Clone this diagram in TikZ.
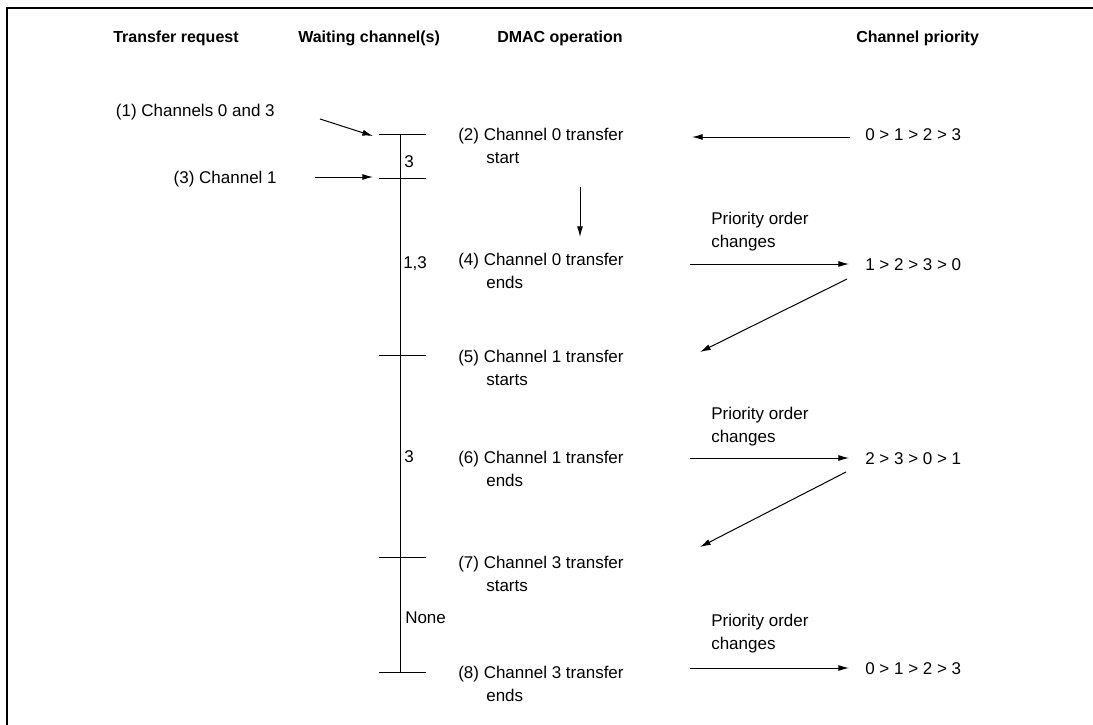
\documentclass[tikz,border=0pt]{standalone}
\usepackage{fontspec}
\setmainfont{Liberation Sans}
\usetikzlibrary{arrows.meta,positioning}

\begin{document}
\begin{tikzpicture}[x=0.75pt,y=-0.75pt,>={Latex[length=8pt,width=4.5pt]}]
\tikzstyle{head}=[anchor=base west,inner sep=0pt,font=\fontsize{12}{14}\selectfont\bfseries]
\tikzstyle{txt}=[anchor=base west,inner sep=0pt,align=left,font=\fontsize{12.75}{17.25}\selectfont]
\tikzstyle{arr}=[->,line width=.75pt]
\useasboundingbox (0,0) rectangle (1093,725);
\draw[line width=1.5pt] (7,725) -- (7,8) -- (1093,8);
% column heads
\node[head] (hreq) at (113,42) {Transfer request};
\node[head] (hwait) at (298,42) {Waiting channel(s)};
\node[head] (hdmac) at (497,42) {DMAC operation};
\node[head] (hprio) at (856,42) {Channel priority};
% requests
\node[txt,anchor=base east] (req1) at (275,116) {(1) Channels 0 and 3};
\node[txt,anchor=base east] (req3) at (277,183) {(3) Channel 1};
% waiting channels time line
\foreach \y [count=\i] in {134,178,355,557,672}{
  \coordinate (t\i) at (400,\y);
  \draw[line width=.75pt] (379,\y) -- (426,\y);
}
\draw[line width=.75pt] (t1) -- (t5);
\node[txt] (w1) at (404,167) {3};
\node[txt] (w2) at (403,268) {1,3};
\node[txt] (w3) at (404,462) {3};
\node[txt] (w4) at (405,623) {None};
% DMAC operation (base = second line)
\node[txt] (op2) at (458,163) {(2) Channel 0 transfer\\\hspace*{1.65em}start};
\node[txt] (op4) at (458,288) {(4) Channel 0 transfer\\\hspace*{1.65em}ends};
\node[txt] (op5) at (458,385) {(5) Channel 1 transfer\\\hspace*{1.65em}starts};
\node[txt] (op6) at (458,486) {(6) Channel 1 transfer\\\hspace*{1.65em}ends};
\node[txt] (op7) at (458,591) {(7) Channel 3 transfer\\\hspace*{1.65em}starts};
\node[txt] (op8) at (458,701) {(8) Channel 3 transfer\\\hspace*{1.65em}ends};
% channel priority
\node[txt] (pr1) at (865,140) {0 > 1 > 2 > 3};
\node[txt] (pr2) at (865,270) {1 > 2 > 3 > 0};
\node[txt] (pr3) at (865,464) {2 > 3 > 0 > 1};
\node[txt] (pr4) at (865,674) {0 > 1 > 2 > 3};
\node[txt] (chg1) at (711,247) {Priority order\\changes};
\node[txt] (chg2) at (711,442) {Priority order\\changes};
\node[txt] (chg3) at (711,649) {Priority order\\changes};
% connectors
\coordinate (r1) at (320,119);
\coordinate (r1e) at (373,136);
\coordinate (r3) at (315,177);
\coordinate (r3e) at (373,177);
\coordinate (d1) at (580,187);
\coordinate (d1e) at (580,237);
\coordinate (p1) at (850,137);
\coordinate (p1e) at (692,137);
\coordinate (s2) at (847,279);
\coordinate (s2e) at (700,352);
\coordinate (s3) at (846,472);
\coordinate (s3e) at (700,547);
\foreach \x/\y in {r1/r1e,r3/r3e,d1/d1e,p1/p1e,s2/s2e,s3/s3e}{\draw[arr] (\x) -- (\y);}
\foreach \y/\p in {264/pr2,458/pr3,668/pr4}{\draw[arr] (690,\y) -- (849,\y);}
\end{tikzpicture}
\end{document}
